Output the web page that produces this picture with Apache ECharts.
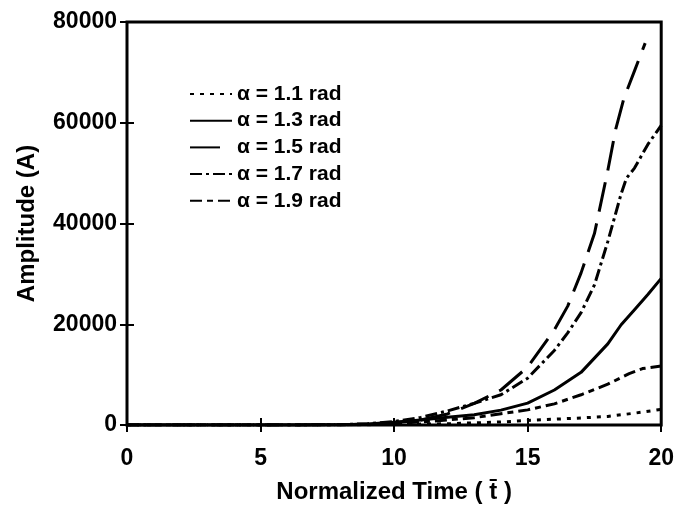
<!DOCTYPE html>
<html>
<head>
<meta charset="utf-8">
<script src="https://cdn.jsdelivr.net/npm/echarts@6/dist/echarts.min.js"></script>
<style>html,body{margin:0;padding:0;background:#fff}#c{width:677px;height:510px}</style>
</head>
<body>
<div id="c"></div>
<script>
// Data
const legendNames = ['\u03b1 = 1.1 rad', '\u03b1 = 1.3 rad', '\u03b1 = 1.5 rad', '\u03b1 = 1.7 rad', '\u03b1 = 1.9 rad'];
const xTicks = [0, 5, 10, 15, 20];
const yTicks = [0, 20000, 40000, 60000, 80000];

const t11 = [0, 6, 8, 10, 12, 14, 15, 16, 17, 18, 19, 20];
const a11 = [0, 0, 30, 100, 250, 600, 900, 1150, 1400, 1700, 2350, 3100];

const t13 = [0, 6, 8, 9, 10, 11, 12, 13, 14, 15, 16, 17, 18, 18.5, 19, 19.5, 20];
const a13 = [0, 0, 50, 200, 550, 1000, 1550, 2050, 2950, 4350, 6950, 10450, 16100, 19900, 22900, 25900, 29100];

const t15 = [0, 6, 8, 9, 10, 11, 12, 13, 14, 15, 16, 16.5, 17, 17.5, 18, 18.3, 18.6, 19, 19.4];
const a15 = [0, 0, 40, 150, 450, 1000, 2200, 4300, 6950, 11500, 18900, 23600, 30200, 38000, 50500, 58800, 64800, 70300, 75800];

const t17 = [0, 6, 8, 9, 10, 11, 12, 13, 14, 15, 16, 16.5, 17, 17.5, 18, 18.5, 18.7, 19, 19.5, 20];
const a17 = [0, 0, 60, 250, 700, 1500, 2800, 4300, 6000, 9300, 14800, 18300, 22300, 27800, 36400, 45900, 49000, 51000, 55700, 59500];

const t19 = [0, 6, 8, 9, 10, 11, 12, 13, 14, 15, 16, 17, 18, 18.8, 19.3, 20];
const a19 = [0, 0, 40, 120, 300, 600, 1000, 1450, 2250, 3000, 4200, 6000, 8100, 10200, 11200, 11700];

const dashes = [[4, 6], 'solid', [30, 12], [12, 4, 3, 4], [12, 5, 6, 5]];
const seriesT = [t11, t13, t15, t17, t19];
const seriesA = [a11, a13, a15, a17, a19];

const FONT = 'Liberation Sans, Arial, sans-serif';

const chart = echarts.init(document.getElementById('c'), null, {renderer: 'canvas'});

const series = legendNames.map((n, i) => ({
  name: n,
  type: 'line',
  symbol: 'none',
  smooth: false,
  xAxisIndex: 0,
  yAxisIndex: 0,
  data: seriesT[i].map((t, k) => [t, seriesA[i][k]]),
  lineStyle: {color: '#000', width: 3, type: dashes[i], cap: 'butt', join: 'round'},
  itemStyle: {color: '#000'},
  animation: false
}));

const labelStyle = {color: '#000', fontWeight: 'bold', fontSize: 23, fontFamily: FONT};
const tickStyle = {show: true, inside: true, length: 7, lineStyle: {color: '#000', width: 2}};

chart.setOption({
  animation: false,
  backgroundColor: '#fff',
  grid: {left: 127, right: 12, top: 22, bottom: 85, show: true, borderColor: '#000', borderWidth: 3, backgroundColor: 'transparent'},
  legend: {
    orient: 'vertical',
    left: 184,
    top: 78.5,
    itemWidth: 42,
    itemHeight: 19,
    itemGap: 5.7,
    itemTextGap: 16,
    itemStyle: {opacity: 0},
    textStyle: {color: '#000', fontWeight: 'bold', fontSize: 21, fontFamily: FONT},
    data: legendNames
  },
  xAxis: [{
    type: 'value', position: 'bottom',
    min: xTicks[0], max: xTicks[xTicks.length - 1], interval: xTicks[1] - xTicks[0],
    axisLine: {show: false}, axisTick: tickStyle, splitLine: {show: false},
    axisLabel: Object.assign({margin: 22}, labelStyle),
    name: 'Normalized Time ( t\u0304 )', nameLocation: 'middle', nameGap: 55,
    nameTextStyle: {color: '#000', fontWeight: 'bold', fontSize: 24, fontFamily: FONT}
  }, {
    type: 'value', position: 'top',
    min: xTicks[0], max: xTicks[xTicks.length - 1], interval: xTicks[1] - xTicks[0],
    axisLine: {show: false}, axisTick: tickStyle, splitLine: {show: false},
    axisLabel: {show: false}
  }],
  yAxis: [{
    type: 'value', position: 'left',
    min: yTicks[0], max: yTicks[yTicks.length - 1], interval: yTicks[1] - yTicks[0],
    axisLine: {show: false}, axisTick: tickStyle, splitLine: {show: false},
    axisLabel: Object.assign({margin: 10, formatter: v => String(v)}, labelStyle),
    name: 'Amplitude (A)', nameLocation: 'middle', nameGap: 88, nameRotate: 90,
    nameTextStyle: {color: '#000', fontWeight: 'bold', fontSize: 24, fontFamily: FONT}
  }, {
    type: 'value', position: 'right',
    min: yTicks[0], max: yTicks[yTicks.length - 1], interval: yTicks[1] - yTicks[0],
    axisLine: {show: false}, axisTick: tickStyle, splitLine: {show: false},
    axisLabel: {show: false}
  }],
  series: series
});
</script>
</body>
</html>
